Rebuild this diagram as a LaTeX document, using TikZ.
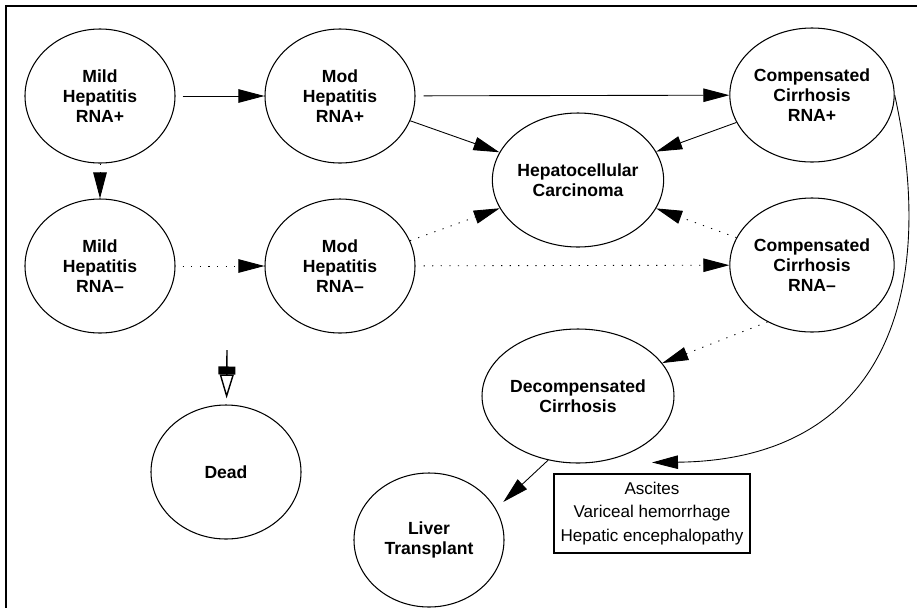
\documentclass[tikz,border=0pt]{standalone}
\usepackage{fontspec}
\setmainfont{Liberation Sans}
\usetikzlibrary{arrows.meta,shapes.geometric}

\begin{document}
\begin{tikzpicture}[x=0.2mm,y=-0.2mm,
  state/.style={draw,ellipse,line width=0.6pt,minimum width=30mm,minimum height=26.8mm,
                inner sep=0pt,align=center,font=\fontsize{10}{11.4}\selectfont\bfseries},
  trans/.style={-{Triangle[length=5.2mm,width=2.7mm]},line width=0.5pt},
  maybe/.style={trans,dash pattern=on 0.7pt off 4.2pt}]

  \useasboundingbox (0,0) rectangle (917,608);

  % frame (top and left only)
  \draw[line width=1.1pt] (6,608) -- (6,6) -- (917,6);

  % hepatitis states
  \node[state] (mhp)  at (100,96)  {Mild\\Hepatitis\\RNA+};
  \node[state] (modp) at (340,96)  {Mod\\Hepatitis\\RNA+};
  \node[state] (mhm)  at (100,266) {Mild\\Hepatitis\\RNA–};
  \node[state] (modm) at (340,266) {Mod\\Hepatitis\\RNA–};

  % cirrhosis and cancer
  \node[state] (ccp) at (812,95)  {Compensated\\Cirrhosis\\RNA+};
  \node[state] (ccm) at (812,265) {Compensated\\Cirrhosis\\RNA–};
  \node[state] (hcc) at (578,180) {Hepatocellular\\Carcinoma};
  \node[state] (dec) at (578,396) {Decompensated\\Cirrhosis};

  % absorbing states
  \node[state] (dead) at (226,472) {Dead};
  \node[state] (lt)   at (429,540) {Liver\\Transplant};

  % complications box
  \node[draw,line width=0.6pt,minimum width=39.2mm,minimum height=15.8mm,inner sep=0pt,align=center,
        font=\fontsize{9.7}{13.6}\selectfont] (comp) at (652,513.5)
        {Ascites\\Variceal hemorrhage\\Hepatic encephalopathy};

  % solid transitions
  \draw[trans,shorten <=1.4mm] (mhp) -- (modp);
  \draw[trans,shorten <=1.6mm] (modp) -- (ccp);
  \draw[trans] (modp) -- (hcc);
  \draw[trans] (ccp) -- (hcc);
  \draw[trans,shorten >=2mm] (dec.245) -- (lt.25);
  \draw[trans] (ccp.east) .. controls (940,300) and (880,460) .. ([yshift=2.2mm]comp.north);

  % dotted transitions
  \draw[maybe] (mhp) -- (mhm);
  \draw[maybe,shorten <=1.4mm] (mhm) -- (modm);
  \draw[maybe,shorten <=1.6mm] (modm) -- (ccm);
  \draw[maybe] (modm) -- (hcc);
  \draw[maybe] (ccm) -- (hcc);
  \draw[maybe] (ccm.232) -- (dec);

  % arrow into dead
  \coordinate (deadin) at (227,350);
  \draw[line width=0.8pt,shorten >=1.2mm,
        -{Rectangle[length=1.6mm,width=3.4mm,sep=0pt]Triangle[open,length=4.8mm,width=2.8mm,fill=white]}]
        (deadin) -- (dead);

\end{tikzpicture}
\end{document}
